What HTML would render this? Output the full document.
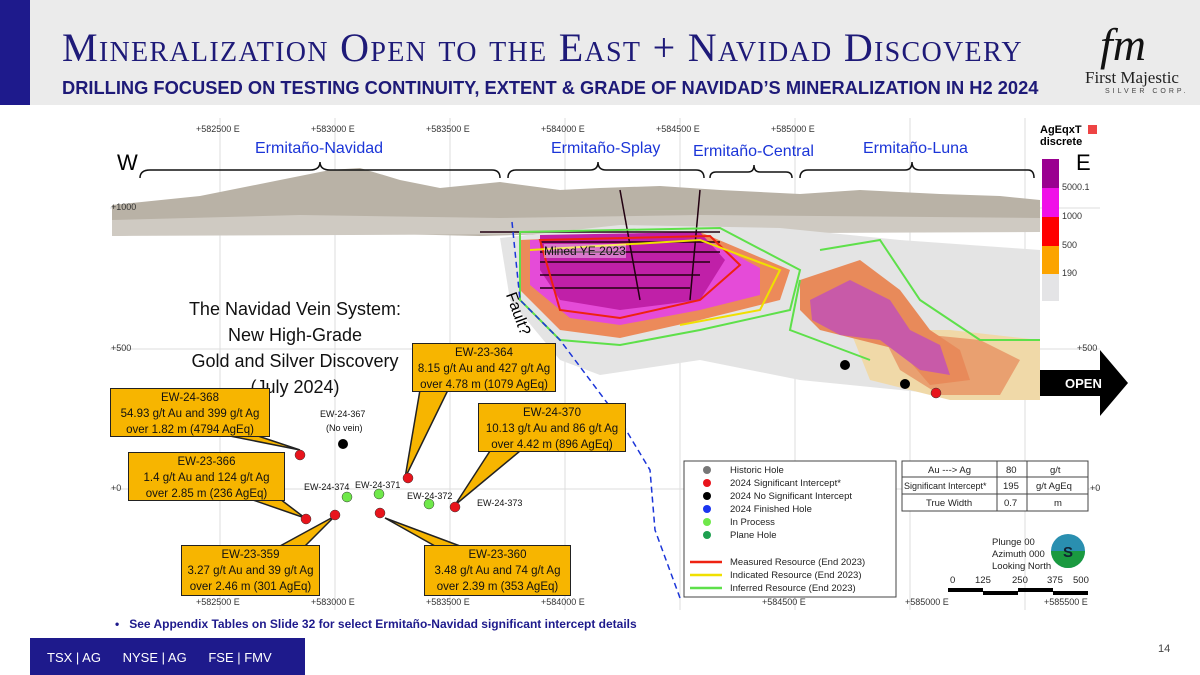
<!DOCTYPE html>
<html><head><meta charset="utf-8"><style>
body{margin:0;width:1200px;height:675px;overflow:hidden;background:#fff;font-family:"Liberation Sans",sans-serif;position:relative}
.a{position:absolute;white-space:nowrap}
.cb{position:absolute;background:#f7b500;border:1.5px solid #222;text-align:center;font-size:11.5px;line-height:16px;color:#111;font-family:"Liberation Sans",sans-serif;white-space:nowrap}
</style></head><body>
<div class="a" style="left:0;top:0;width:1200px;height:105px;background:#ebebeb"></div>
<div class="a" style="left:0;top:0;width:30px;height:105px;background:#1e1a8c"></div>
<div class="a" style="left:62px;top:24px;font-family:'Liberation Serif',serif;font-size:40px;color:#1e1a78;font-variant:small-caps;letter-spacing:1.3px">Mineralization Open to the East + Navidad Discovery</div>
<div class="a" style="left:62px;top:77px;font-size:18.3px;font-weight:bold;color:#1e1a78">DRILLING FOCUSED ON TESTING CONTINUITY, EXTENT &amp; GRADE OF NAVIDAD’S MINERALIZATION IN H2 2024</div>
<div class="a" style="left:1100px;top:18px;font-family:'Liberation Serif',serif;font-style:italic;font-size:46px;color:#111">fm</div>
<div class="a" style="left:1085px;top:68px;font-family:'Liberation Serif',serif;font-size:17px;color:#222">First Majestic</div>
<div class="a" style="left:1105px;top:88px;font-size:7px;letter-spacing:3px;color:#444">SILVER CORP.</div>

<svg class="a" style="left:0;top:0" width="1200" height="675">
<rect x="110" y="118" width="990" height="492" fill="#fff"/>
<g stroke="#ddd" stroke-width="1">
<line x1="220" y1="118" x2="220" y2="610"/><line x1="335" y1="118" x2="335" y2="610"/><line x1="450" y1="118" x2="450" y2="610"/><line x1="565" y1="118" x2="565" y2="610"/><line x1="680" y1="118" x2="680" y2="610"/><line x1="795" y1="118" x2="795" y2="610"/><line x1="910" y1="118" x2="910" y2="610"/><line x1="1025" y1="118" x2="1025" y2="610"/>
<line x1="110" y1="208" x2="1100" y2="208"/><line x1="110" y1="349" x2="1100" y2="349"/><line x1="110" y1="489" x2="1100" y2="489"/>
</g>
<path d="M112 205 L200 196 L280 180 L330 170 L360 168 L400 180 L440 188 L500 182 L560 190 L600 188 L660 186 L720 190 L800 194 L860 190 L940 194 L1000 196 L1040 200 L1040 232 L900 232 L700 230 L480 236 L300 232 L112 236Z" fill="#b9b2a6"/>
<path d="M112 220 L300 215 L500 218 L700 215 L1040 218 L1040 232 L112 236Z" fill="#cfcac2"/>
<path d="M500 238 L620 225 L780 228 L900 240 L1040 250 L1040 400 L950 395 L800 380 L700 360 L600 375 L560 360 L510 300Z" fill="#e4e4e4"/>
<path d="M850 330 L950 330 L1040 340 L1040 400 L950 400 L870 380Z" fill="#f0d9a8"/>
<path d="M880 330 L980 340 L1020 360 L1000 395 L940 395 L900 370Z" fill="#e9a070"/>
<path d="M800 280 L860 260 L900 290 L930 330 L960 350 L970 380 L930 385 L900 350 L860 340 L820 330 L800 310Z" fill="#e88a5a"/>
<path d="M810 300 L850 280 L890 300 L910 330 L940 345 L950 375 L920 370 L880 340 L840 335 L812 320Z" fill="#c85aa8"/>
<path d="M520 240 L700 232 L790 270 L780 300 L700 320 L620 338 L560 330 L520 290Z" fill="#ec8a5a"/>
<path d="M530 240 L700 236 L760 268 L760 295 L700 310 L620 325 L570 318 L530 285Z" fill="#e54bd8"/>
<path d="M540 235 L700 232 L725 260 L700 300 L620 310 L560 300 L540 270Z" fill="#c020a8"/>
<g stroke="#220011" stroke-width="1.5">
<line x1="480" y1="232" x2="720" y2="232"/><line x1="540" y1="242" x2="720" y2="242"/><line x1="540" y1="252" x2="720" y2="252"/><line x1="540" y1="262" x2="710" y2="262"/><line x1="540" y1="275" x2="700" y2="275"/><line x1="540" y1="288" x2="690" y2="288"/>
<line x1="620" y1="190" x2="640" y2="300"/><line x1="700" y1="190" x2="690" y2="300"/>
</g>
<path d="M520 232 L720 228 L800 270 L790 310 L700 330 L620 345 L560 340 L520 300Z" fill="none" stroke="#5ee04a" stroke-width="2"/>
<path d="M820 250 L880 240 L920 300 L980 340 L1040 340 M800 280 L790 330 L830 345 L870 360" fill="none" stroke="#5ee04a" stroke-width="2"/>
<path d="M540 240 L710 236 L740 265 L700 300 L620 318 L560 310Z" fill="none" stroke="#e21" stroke-width="2"/>
<path d="M530 250 L700 240 L780 270 L760 310 L680 325" fill="none" stroke="#f0e000" stroke-width="2"/>
<path d="M512 222 L520 300 L560 340 L620 420 L650 470 L655 530 L680 598" fill="none" stroke="#1b35d8" stroke-width="1.5" stroke-dasharray="6,4"/>
<g fill="none" stroke="#111" stroke-width="1.5">
<path d="M140 178 Q140 170 150 170 L310 170 Q320 170 320 162 Q320 170 330 170 L492 170 Q500 170 500 178"/>
<path d="M508 178 Q508 170 516 170 L590 170 Q598 170 598 162 Q598 170 606 170 L696 170 Q704 170 704 178"/>
<path d="M710 178 Q710 172 716 172 L748 172 Q754 172 754 165 Q754 172 760 172 L786 172 Q792 172 792 178"/>
<path d="M800 178 Q800 170 808 170 L905 170 Q912 170 912 162 Q912 170 920 170 L1028 170 Q1034 170 1034 178"/>
</g>
<rect x="1042" y="159" width="17" height="29" fill="#9a0090"/><rect x="1042" y="188" width="17" height="29" fill="#f010e8"/><rect x="1042" y="217" width="17" height="29" fill="#f00"/><rect x="1042" y="246" width="17" height="28" fill="#fca400"/><rect x="1042" y="274" width="17" height="27" fill="#e4e4e6"/>
<rect x="1088" y="125" width="9" height="9" fill="#e44"/>
<g fill="#f7b500" stroke="#222" stroke-width="1.5">
<polygon points="420,390 448,390 405,478"/>
<polygon points="230,436 258,436 300,450"/>
<polygon points="490,451 520,451 455,505"/>
<polygon points="250,499 280,499 305,518"/>
<polygon points="280,546 305,546 335,516"/>
<polygon points="435,546 460,546 385,518"/>
</g>
<g fill="#e8141c" stroke="#333" stroke-width=".5">
<circle cx="300" cy="455" r="5"/><circle cx="306" cy="519" r="5"/><circle cx="335" cy="515" r="5"/><circle cx="380" cy="513" r="5"/><circle cx="455" cy="507" r="5"/><circle cx="408" cy="478" r="5"/><circle cx="936" cy="393" r="5"/></g>
<g fill="#000"><circle cx="343" cy="444" r="5"/><circle cx="845" cy="365" r="5"/><circle cx="905" cy="384" r="5"/></g>
<g fill="#6fe84a" stroke="#333" stroke-width=".5"><circle cx="347" cy="497" r="5"/><circle cx="379" cy="494" r="5"/><circle cx="429" cy="504" r="5"/></g>
<polygon points="1040,370 1100,370 1100,350 1128,383 1100,416 1100,396 1040,396" fill="#000"/>
<rect x="684" y="461" width="212" height="136" fill="#fff" stroke="#444"/>
<circle cx="707" cy="470" r="4" fill="#777"/><circle cx="707" cy="483" r="4" fill="#e8141c"/><circle cx="707" cy="496" r="4" fill="#000"/><circle cx="707" cy="509" r="4" fill="#1b35f0"/><circle cx="707" cy="522" r="4" fill="#6fe84a"/><circle cx="707" cy="535" r="4" fill="#1ea050"/>
<line x1="690" y1="562" x2="722" y2="562" stroke="#e21" stroke-width="2.5"/><line x1="690" y1="575" x2="722" y2="575" stroke="#f0e000" stroke-width="2.5"/><line x1="690" y1="588" x2="722" y2="588" stroke="#5ee04a" stroke-width="2.5"/>
<rect x="902" y="461" width="186" height="50" fill="#fff" stroke="#444"/>
<g stroke="#444"><line x1="902" y1="477" x2="1088" y2="477"/><line x1="902" y1="494" x2="1088" y2="494"/><line x1="997" y1="461" x2="997" y2="511"/><line x1="1027" y1="461" x2="1027" y2="511"/></g>
<rect x="948" y="588" width="35" height="4" fill="#000"/><rect x="983" y="591" width="35" height="4" fill="#000"/><rect x="1018" y="588" width="35" height="4" fill="#000"/><rect x="1053" y="591" width="35" height="4" fill="#000"/>
<circle cx="1068" cy="551" r="17" fill="#2a8fb0"/><path d="M1051 551 A17 17 0 0 0 1085 551Z" fill="#1a9a40"/>
<text x="1063" y="557" font-size="15" font-weight="bold" fill="#123">S</text>
<rect x="30" y="638" width="275" height="37" fill="#1e1a8c"/>
</svg>

<div class="a" style="font-size:9px;color:#333;left:0;top:0;width:1200px">
<span class="a" style="left:196px;top:124px">+582500 E</span><span class="a" style="left:311px;top:124px">+583000 E</span><span class="a" style="left:426px;top:124px">+583500 E</span><span class="a" style="left:541px;top:124px">+584000 E</span><span class="a" style="left:656px;top:124px">+584500 E</span><span class="a" style="left:771px;top:124px">+585000 E</span>
<span class="a" style="left:196px;top:597px">+582500 E</span><span class="a" style="left:311px;top:597px">+583000 E</span><span class="a" style="left:426px;top:597px">+583500 E</span><span class="a" style="left:541px;top:597px">+584000 E</span><span class="a" style="left:762px;top:597px">+584500 E</span><span class="a" style="left:905px;top:597px">+585000 E</span><span class="a" style="left:1044px;top:597px">+585500 E</span>
<span class="a" style="left:111px;top:202px">+1000</span><span class="a" style="left:111px;top:343px">+500</span><span class="a" style="left:111px;top:483px">+0</span>
<span class="a" style="left:1077px;top:343px">+500</span><span class="a" style="left:1090px;top:483px">+0</span>
<span class="a" style="left:1062px;top:182px">5000.1</span><span class="a" style="left:1062px;top:211px">1000</span><span class="a" style="left:1062px;top:240px">500</span><span class="a" style="left:1062px;top:268px">190</span>
</div>
<div class="a" style="left:1040px;top:124px;font-size:11px;font-weight:bold;line-height:12px">AgEqxT<br>discrete</div>
<div class="a" style="left:255px;top:140px;font-size:16px;color:#1b35d8">Ermitaño-Navidad</div>
<div class="a" style="left:551px;top:140px;font-size:16px;color:#1b35d8">Ermitaño-Splay</div>
<div class="a" style="left:693px;top:143px;font-size:16px;color:#1b35d8">Ermitaño-Central</div>
<div class="a" style="left:863px;top:140px;font-size:16px;color:#1b35d8">Ermitaño-Luna</div>
<div class="a" style="left:117px;top:150px;font-size:22px">W</div>
<div class="a" style="left:1076px;top:150px;font-size:22px">E</div>
<div class="a" style="left:544px;top:244px;font-size:12px;color:#111;background:rgba(255,255,255,.4)">Mined YE 2023</div>
<div class="a" style="top:290px;font-size:16px;transform:rotate(70deg);transform-origin:left top;left:518px">Fault?</div>
<div class="a" style="left:160px;top:296px;width:270px;text-align:center;font-size:18px;line-height:26px;color:#111">The Navidad Vein System:<br>New High-Grade<br>Gold and Silver Discovery<br>(July 2024)</div>
<div class="a" style="left:1065px;top:376px;font-size:13px;font-weight:bold;color:#fff">OPEN</div>

<div class="cb" style="left:412px;top:343px;width:142px;height:46px;padding-top:1px">EW-23-364<br>8.15 g/t Au and 427 g/t Ag<br>over 4.78 m (1079 AgEq)</div>
<div class="cb" style="left:110px;top:388px;width:158px;height:46px;padding-top:1px">EW-24-368<br>54.93 g/t Au and 399 g/t Ag<br>over 1.82 m (4794 AgEq)</div>
<div class="cb" style="left:478px;top:403px;width:146px;height:46px;padding-top:1px">EW-24-370<br>10.13 g/t Au and 86 g/t Ag<br>over 4.42 m (896 AgEq)</div>
<div class="cb" style="left:128px;top:452px;width:155px;height:46px;padding-top:1px">EW-23-366<br>1.4 g/t Au and 124 g/t Ag<br>over 2.85 m (236 AgEq)</div>
<div class="cb" style="left:181px;top:545px;width:137px;height:48px;padding-top:1px">EW-23-359<br>3.27 g/t Au and 39 g/t Ag<br>over 2.46 m (301 AgEq)</div>
<div class="cb" style="left:424px;top:545px;width:145px;height:48px;padding-top:1px">EW-23-360<br>3.48 g/t Au and 74 g/t Ag<br>over 2.39 m (353 AgEq)</div>

<div class="a" style="font-size:9px;color:#111;left:0;top:0">
<span class="a" style="left:320px;top:409px">EW-24-367</span><span class="a" style="left:326px;top:423px">(No vein)</span>
<span class="a" style="left:304px;top:482px">EW-24-374</span><span class="a" style="left:355px;top:480px">EW-24-371</span>
<span class="a" style="left:407px;top:491px">EW-24-372</span><span class="a" style="left:477px;top:498px">EW-24-373</span>
</div>
<div class="a" style="font-size:9.5px;color:#222;left:0;top:0">
<span class="a" style="left:730px;top:465px">Historic Hole</span>
<span class="a" style="left:730px;top:478px">2024 Significant Intercept*</span>
<span class="a" style="left:730px;top:491px">2024 No Significant Intercept</span>
<span class="a" style="left:730px;top:504px">2024 Finished Hole</span>
<span class="a" style="left:730px;top:517px">In Process</span>
<span class="a" style="left:730px;top:530px">Plane Hole</span>
<span class="a" style="left:730px;top:557px">Measured Resource (End 2023)</span>
<span class="a" style="left:730px;top:570px">Indicated Resource (End 2023)</span>
<span class="a" style="left:730px;top:583px">Inferred Resource (End 2023)</span>
<span class="a" style="left:928px;top:465px">Au ---&gt; Ag</span><span class="a" style="left:1006px;top:465px">80</span><span class="a" style="left:1050px;top:465px">g/t</span>
<span class="a" style="left:904px;top:481px;font-size:9px">Significant Intercept*</span><span class="a" style="left:1003px;top:481px">195</span><span class="a" style="left:1036px;top:481px">g/t AgEq</span>
<span class="a" style="left:926px;top:498px">True Width</span><span class="a" style="left:1004px;top:498px">0.7</span><span class="a" style="left:1054px;top:498px">m</span>
<span class="a" style="left:992px;top:537px;line-height:12px">Plunge 00<br>Azimuth 000<br>Looking North</span>
<span class="a" style="left:950px;top:575px">0</span><span class="a" style="left:975px;top:575px">125</span><span class="a" style="left:1012px;top:575px">250</span><span class="a" style="left:1047px;top:575px">375</span><span class="a" style="left:1073px;top:575px">500</span>
</div>

<div class="a" style="left:115px;top:617px;font-size:12px;font-weight:bold;color:#1e1a8c">•&nbsp;&nbsp; See Appendix Tables on Slide 32 for select Ermitaño-Navidad significant intercept details</div>
<div class="a" style="left:47px;top:650px;font-size:13px;color:#fff">TSX | AG &nbsp;&nbsp;&nbsp;&nbsp; NYSE | AG &nbsp;&nbsp;&nbsp;&nbsp; FSE | FMV</div>
<div class="a" style="left:1158px;top:643px;font-size:11px;color:#444">14</div>
</body></html>
